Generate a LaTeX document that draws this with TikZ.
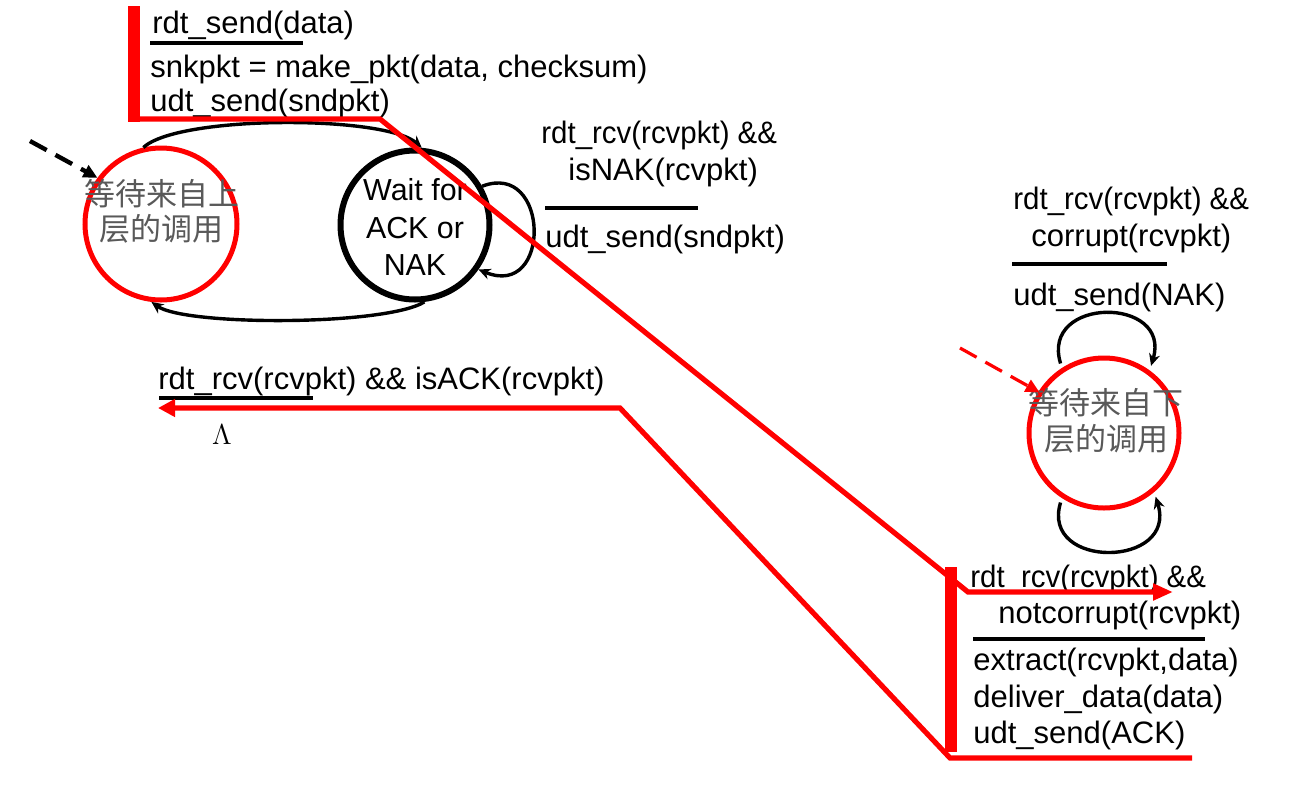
\documentclass[tikz,border=0pt]{standalone}
\usepackage{graphicx}
\usepackage{fontspec}
\setmainfont{Liberation Sans}
\newfontfamily\cjkfont{Noto Sans CJK SC}
\usetikzlibrary{arrows.meta}
\newcommand\cond[1]{\scalebox{0.95}[1]{#1}}
\begin{document}
\begin{tikzpicture}[x=0.5pt,y=-0.5pt,
  lbl/.style={font=\fontsize{15.5}{18}\selectfont, inner sep=0pt, anchor=base west},
  circtxt/.style={font=\fontsize{15.2}{17}\selectfont, inner sep=0pt, anchor=base},
  cjktxt/.style={font=\cjkfont\fontsize{15.5}{18}\selectfont, text=black!65, inner sep=0pt, anchor=base},
  st/.style={circle, minimum size=#1, inner sep=0pt},
  uline/.style={line width=2pt},
  arc/.style={line width=1.7pt, -{Stealth[length=6pt,width=5.5pt]}},
  redline/.style={draw=red, line width=2.6pt},
  redbar/.style={draw=red, line width=6pt},
  initarrow/.style={dash pattern=on 9.5pt off 5pt, -{Triangle[length=7pt,width=6.5pt]}}
]
\useasboundingbox (0,0) rectangle (1313,788);

% states
\node[st=76pt, draw=red, line width=2.5pt] (s0) at (161,224) {};
\node[st=74.5pt, draw=black, line width=3pt] (s1) at (415,225) {};
\node[st=75pt, draw=red, line width=2.5pt, outer sep=3.5pt] (r0) at (1104,433) {};

\node[cjktxt] (s0a) at (162,205) {等待来自上};
\node[cjktxt] (s0b) at (161,240) {层的调用};
\node[circtxt] (s1a) at (415,200) {Wait for};
\node[circtxt] (s1b) at (415,238) {ACK or};
\node[circtxt] (s1c) at (415,275) {NAK};
\node[cjktxt] (r0a) at (1106,414) {等待来自下};
\node[cjktxt] (r0b) at (1106,450) {层的调用};

% initial arrows
\coordinate (i0) at (30,141);
\draw[initarrow, line width=2.2pt] (i0) -- (s0.144);
\coordinate (i1) at (960,348);
\draw[initarrow, red, line width=1.6pt, shorten >=-3pt] (i1) -- (r0.148);

% transitions
\draw[arc] (s0.103) .. controls (178,115) and (385,115) .. (s1.85);
\draw[arc] (s1.277) .. controls (385,326) and (185,326) .. (s0.263);
\draw[arc] (s1.30) .. controls (550,160) and (552,300) .. (s1.325);
\draw[arc] (r0.122) .. controls (1040,296) and (1172,296) .. (r0.55);
\draw[arc] (r0.238) .. controls (1040,570) and (1178,568) .. (r0.309);

% top label
\node[lbl] (t1) at (152,33) {rdt\_send(data)};
\draw[uline] (150,43) -- (303,43);
\node[lbl] (t2) at (150,77) {snkpkt = make\_pkt(data, checksum)};
\node[lbl] (t3) at (150,111) {udt\_send(sndpkt)};

% isNAK label
\node[lbl] (n1) at (541,143) {\cond{rdt\_rcv(rcvpkt) \&\&}};
\node[lbl] (n2) at (568,180) {isNAK(rcvpkt)};
\draw[uline] (545,208) -- (698,208);
\node[lbl] (n3) at (545,247) {udt\_send(sndpkt)};

% corrupt label
\node[lbl] (c1) at (1013,209) {\cond{rdt\_rcv(rcvpkt) \&\&}};
\node[lbl] (c2) at (1031,246) {corrupt(rcvpkt)};
\draw[uline] (1012,264) -- (1167,264);
\node[lbl] (c3) at (1013,305) {udt\_send(NAK)};

% notcorrupt label
\node[lbl] (b1) at (970,587) {\cond{rdt\_rcv(rcvpkt) \&\&}};
\node[lbl] (b2) at (998,623) {notcorrupt(rcvpkt)};
\draw[uline] (973,639) -- (1205,639);
\node[lbl] (b3) at (973,670) {extract(rcvpkt,data)};
\node[lbl] (b4) at (973,707) {deliver\_data(data)};
\node[lbl] (b5) at (973,743) {udt\_send(ACK)};

% isACK label
\node[lbl] (a1) at (158,389) {rdt\_rcv(rcvpkt) \&\& isACK(rcvpkt)};
\draw[uline] (159,398) -- (313,398);
\node[font=\fontsize{14.5}{16}\selectfont, inner sep=0pt, anchor=base] (lam) at (222,444) {$\Lambda$};

% red highlight paths
\coordinate (pa0) at (134,6);
\coordinate (pa1) at (134,122);
\coordinate (pa2) at (129,119);
\coordinate (pa3) at (380,119);
\coordinate (pa4) at (968,592);
\coordinate (pa5) at (1173,592);
\draw[redbar] (pa0) -- (pa1);
\draw[redline, -{Triangle[length=10pt,width=8pt]}] (pa2) -- (pa3) -- (pa4) -- (pa5);

\coordinate (pb0) at (951,567);
\coordinate (pb1) at (951,752);
\coordinate (pb2) at (1192,758);
\coordinate (pb3) at (950,758);
\coordinate (pb4) at (620,408);
\coordinate (pb5) at (158,408);
\draw[redbar] (pb0) -- (pb1);
\draw[redline, -{Triangle[length=8.5pt,width=8.5pt]}] (pb2) -- (pb3) -- (pb4) -- (pb5);
\end{tikzpicture}
\end{document}
